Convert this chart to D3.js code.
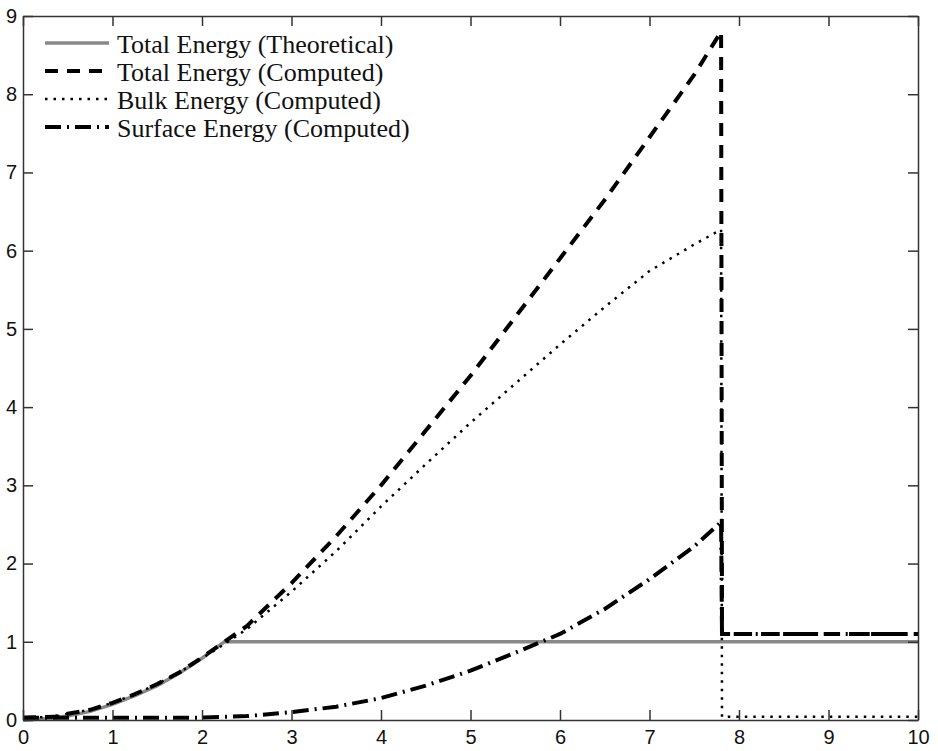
<!DOCTYPE html>
<meta charset="utf-8">
<script src="https://d3js.org/d3.v7.min.js"></script>
<style>
  body { margin: 0; background: #fff; }
</style>
<div id="my_dataviz"></div>
<script>
// data
var theoX = [0, 0.3, 0.5, 0.75, 1, 1.25, 1.5, 1.75, 2, 2.25, 10];
var theoY = [0, 0.02, 0.05, 0.11, 0.2, 0.31, 0.44, 0.6, 0.79, 1.0, 1.0];

var totalX = [0, 0.35, 0.5, 0.75, 1, 1.25, 1.5, 1.75, 2, 2.25, 2.5, 3, 3.5, 4, 4.5, 5, 5.5, 6, 6.5, 7, 7.5, 7.8, 7.81, 10];
var totalY = [0.03, 0.04, 0.08, 0.13, 0.22, 0.33, 0.46, 0.61, 0.8, 1.0, 1.2, 1.75, 2.35, 3.0, 3.7, 4.4, 5.15, 5.9, 6.65, 7.45, 8.25, 8.8, 1.1, 1.1];

var bulkX = [0, 0.35, 0.5, 0.75, 1, 1.25, 1.5, 1.75, 2, 2.25, 2.5, 3, 3.5, 4, 4.5, 5, 5.5, 6, 6.5, 7, 7.5, 7.8, 7.81, 10];
var bulkY = [0.03, 0.04, 0.08, 0.13, 0.22, 0.33, 0.46, 0.61, 0.79, 0.97, 1.16, 1.64, 2.16, 2.73, 3.27, 3.8, 4.3, 4.8, 5.28, 5.74, 6.08, 6.27, 0.04, 0.04];

var surfX = [0, 1, 2, 2.5, 3, 3.5, 4, 4.5, 5, 5.5, 6, 6.5, 7, 7.5, 7.8, 7.81, 10];
var surfY = [0.03, 0.03, 0.03, 0.05, 0.1, 0.17, 0.28, 0.44, 0.63, 0.86, 1.1, 1.42, 1.8, 2.22, 2.53, 1.1, 1.1];

var xTicks = [0, 1, 2, 3, 4, 5, 6, 7, 8, 9, 10];
var yTicks = [0, 1, 2, 3, 4, 5, 6, 7, 8, 9];

var legendNames = ["Total Energy (Theoretical)", "Total Energy (Computed)", "Bulk Energy (Computed)", "Surface Energy (Computed)"];

// series styles
var styles = [
  {color: "#888", width: 3.5, dash: null},
  {color: "#000", width: 4, dash: "13,9"},
  {color: "#000", width: 2.5, dash: "2.5,6"},
  {color: "#000", width: 4, dash: "16,6,2,6"}
];

var margin = {top: 16, right: 20, bottom: 31, left: 23},
    width = 938 - margin.left - margin.right,
    height = 751 - margin.top - margin.bottom;

var svg = d3.select("#my_dataviz")
  .append("svg")
    .attr("width", width + margin.left + margin.right)
    .attr("height", height + margin.top + margin.bottom)
  .append("g")
    .attr("transform", "translate(" + margin.left + "," + margin.top + ")");

var x = d3.scaleLinear().domain([0, 10]).range([0, width]);
var y = d3.scaleLinear().domain([0, 9]).range([height, 0]);

// series
var series = [
  d3.zip(theoX, theoY),
  d3.zip(totalX, totalY),
  d3.zip(bulkX, bulkY),
  d3.zip(surfX, surfY)
];

var line = d3.line()
  .x(function(d) { return x(d[0]); })
  .y(function(d) { return y(d[1]); });

series.forEach(function(s, i) {
  svg.append("path")
    .datum(s)
    .attr("fill", "none")
    .attr("stroke", styles[i].color)
    .attr("stroke-width", styles[i].width)
    .attr("stroke-dasharray", styles[i].dash)
    .attr("d", line);
});

// axes (ticks inside, box all round)
function styleAxis(g) {
  g.selectAll("path, line").attr("stroke", "#333").attr("stroke-width", 1.5);
  g.selectAll("text")
    .attr("fill", "#111")
    .style("font-family", "'Liberation Sans', Arial, sans-serif")
    .style("font-size", "20px");
}

svg.append("g")
  .attr("transform", "translate(0," + height + ")")
  .call(d3.axisBottom(x).tickValues(xTicks).tickSizeInner(-10).tickSizeOuter(0).tickPadding(10))
  .call(styleAxis);

svg.append("g")
  .call(d3.axisLeft(y).tickValues(yTicks).tickSizeInner(-10).tickSizeOuter(0).tickPadding(6))
  .call(styleAxis);

svg.append("g")
  .call(d3.axisTop(x).tickValues(xTicks).tickSizeInner(-10).tickSizeOuter(0).tickFormat(""))
  .call(styleAxis);

svg.append("g")
  .attr("transform", "translate(" + width + ",0)")
  .call(d3.axisRight(y).tickValues(yTicks).tickSizeInner(-10).tickSizeOuter(0).tickFormat(""))
  .call(styleAxis);

// legend
var legend = svg.selectAll("myLegend")
  .data(legendNames)
  .enter()
  .append("g")
    .attr("transform", function(d, i) { return "translate(22," + (27 + i * 28) + ")"; });

legend.append("line")
  .attr("x1", 0)
  .attr("x2", 64)
  .attr("stroke", function(d, i) { return styles[i].color; })
  .attr("stroke-width", function(d, i) { return styles[i].width; })
  .attr("stroke-dasharray", function(d, i) { return styles[i].dash; });

legend.append("text")
  .attr("x", 72)
  .attr("y", 10)
  .style("font-family", "'Liberation Serif', 'Times New Roman', serif")
  .style("font-size", "26px")
  .attr("fill", "#111")
  .text(function(d) { return d; });
</script>
